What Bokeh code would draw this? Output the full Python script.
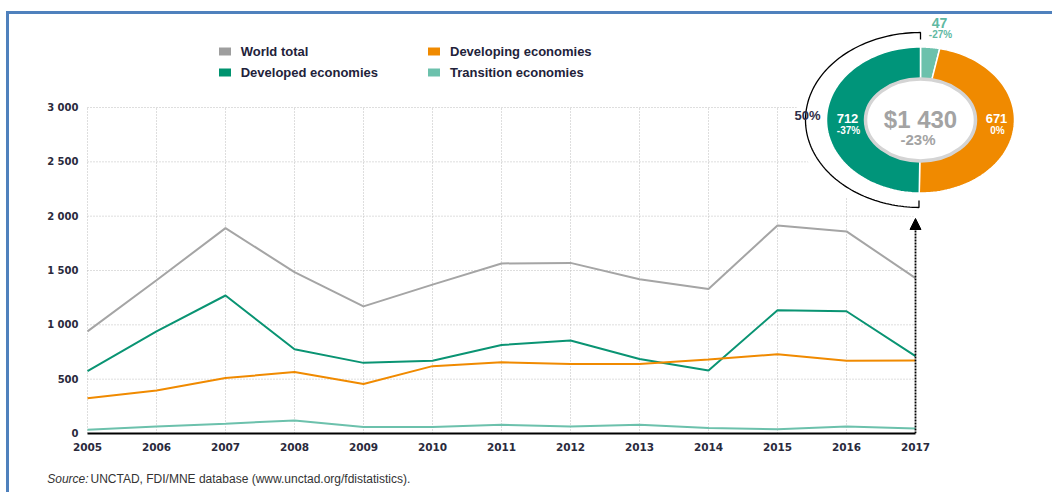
import numpy as np
from bokeh.plotting import figure
from bokeh.layouts import column
from bokeh.models import (Range1d, FixedTicker, Legend, LegendItem, Arrow, NormalHead)
from bokeh.core.properties import value
from bokeh.embed import file_html
from bokeh.resources import INLINE

# ---------------- data ----------------
years = [2005, 2006, 2007, 2008, 2009, 2010, 2011, 2012, 2013, 2014, 2015, 2016, 2017]
world_total = [940, 1410, 1890, 1485, 1170, 1370, 1565, 1570, 1420, 1330, 1915, 1860, 1430]
developed = [575, 940, 1270, 775, 650, 670, 815, 855, 685, 580, 1135, 1125, 712]
developing = [325, 395, 510, 565, 455, 620, 655, 640, 640, 680, 730, 670, 671]
transition = [35, 65, 90, 120, 60, 60, 80, 65, 80, 50, 40, 65, 47]

y_ticks = [0, 500, 1000, 1500, 2000, 2500, 3000]
y_tick_labels = ["0", "500", "1 000", "1 500", "2 000", "2 500", "3 000"]

series_names = ["World total", "Developed economies", "Developing economies", "Transition economies"]
series_colors = ["#a5a5a5", "#0a9473", "#f08a00", "#6cc1ac"]
legend_colors = ["#9e9e9e", "#00936f", "#f08a00", "#6cc1ac"]

# donut (2017), clockwise from 12 o'clock
donut_names = ["Transition economies", "Developing economies", "Developed economies"]
donut_values = [47, 671, 712]
donut_changes = ["-27%", "0%", "-37%"]
donut_colors = ["#6cc1ac", "#f08a00", "#00957a"]
total_value = 1430
total_change = "-23%"
source_label = "Source:"
source_text = "UNCTAD, FDI/MNE database (www.unctad.org/fdistatistics)."

# ---------------- layout constants ----------------
W, H = 1052, 492
H1 = 462                                      # main figure height, source strip below
FL, FR, FT, FB = 80, 1040, 14, 433            # frame edges in pixels
X0PX, PX_PER_YEAR = 87, 69.0                  # 2005 at x=87
PX_PER_UNIT = 326.0 / 3000.0                  # 0 at y=433, 3000 at y=107

x_start = years[0] - (X0PX - FL) / PX_PER_YEAR
x_end = years[0] + (FR - X0PX) / PX_PER_YEAR
y_end = (FB - FT) / PX_PER_UNIT

FONT = "Liberation Sans"
AXFONT = "DejaVu Sans"
TXT = "#2a2a3c"

p = figure(width=W, height=H1, x_range=Range1d(x_start, x_end), y_range=Range1d(0, y_end),
           output_backend="svg", toolbar_location=None, title=None,
           min_border_left=FL, min_border_right=W - FR, min_border_top=FT, min_border_bottom=H1 - FB)
p.extra_x_ranges = {"px": Range1d(FL, FR)}
p.extra_y_ranges = {"px": Range1d(FB, FT)}
p.outline_line_color = None
p.background_fill_color = "white"
p.border_fill_alpha = 0
p.grid.visible = False

# axes
xa = p.xaxis[0]
xa.ticker = FixedTicker(ticks=years)
xa.bounds = (years[0], years[-1])
xa.axis_line_color = "black"
xa.axis_line_width = 2
xa.major_tick_line_color = None
xa.minor_tick_line_color = None
xa.major_tick_out = 0
xa.major_tick_in = 0
xa.major_label_standoff = 9
xa.major_label_text_font = AXFONT
xa.major_label_text_font_size = "10.5px"
xa.major_label_text_font_style = "bold"
xa.major_label_text_color = TXT

ya = p.yaxis[0]
ya.ticker = FixedTicker(ticks=y_ticks)
ya.major_label_overrides = {t: s for t, s in zip(y_ticks, y_tick_labels)}
ya.bounds = (y_ticks[0], y_ticks[-1])
ya.axis_line_color = None
ya.major_tick_line_color = None
ya.minor_tick_line_color = None
ya.major_tick_out = 0
ya.major_tick_in = 0
ya.major_label_standoff = 2
ya.major_label_text_font = AXFONT
ya.major_label_text_font_size = "10px"
ya.major_label_text_font_style = "bold"
ya.major_label_text_color = TXT

# dotted grid (restricted to the data area)
grid_kw = dict(line_color="#bdbdbd", line_width=1, line_dash="1 2")
p.segment(x0=[years[0]] * (len(y_ticks) - 1), x1=[years[-1]] * (len(y_ticks) - 1),
          y0=y_ticks[1:], y1=y_ticks[1:], **grid_kw)
p.segment(x0=years[:-1], x1=years[:-1], y0=[y_ticks[0]] * (len(years) - 1),
          y1=[y_ticks[-1]] * (len(years) - 1), **grid_kw)

# lines
for vals, c in zip([world_total, developed, developing, transition], series_colors):
    p.line(years, vals, line_color=c, line_width=2)

# arrow from 2017 up to the donut
arrow_tip_val = (FB - 218) / PX_PER_UNIT
p.add_layout(Arrow(end=NormalHead(size=11, fill_color="black", line_color="black", line_width=1),
                   x_start=years[-1], y_start=0, x_end=years[-1], y_end=arrow_tip_val,
                   line_color="black", line_width=1.8, line_dash="2 1"))

# ---------------- donut ----------------
CX, CY = 920.0, 119.5
RXO, RYO = 94.0, 73.0
RXI, RYI = 55.0, 41.0
PXR = dict(x_range_name="px", y_range_name="px")

# white backdrop hiding the grid behind the donut
p.ellipse(x=[CX], y=[CY], width=250, height=192, fill_color="white", line_color=None, **PXR)

total = sum(donut_values)
cum = np.concatenate([[0], np.cumsum(donut_values)]) / total * 360.0
xs, ys = [], []
for a0, a1 in zip(cum[:-1], cum[1:]):
    t = np.radians(np.linspace(a0, a1, 80))
    xo = CX + RXO * np.sin(t); yo = CY - RYO * np.cos(t)
    xi = CX + RXI * np.sin(t[::-1]); yi = CY - RYI * np.cos(t[::-1])
    xs.append(np.concatenate([xo, xi]).tolist())
    ys.append(np.concatenate([yo, yi]).tolist())
p.patches(xs, ys, fill_color=donut_colors, line_color="white", line_width=1.5, **PXR)
p.ellipse(x=[CX], y=[CY], width=2 * RXI, height=2 * RYI, fill_color="white",
          line_color="#d4d4d4", line_width=3.5, **PXR)

# bracket around developed share
RXB, RYB, TICK = 115.0, 87.5, 7.0
t = np.radians(np.linspace(cum[2], cum[3], 120))
bx = (CX + RXB * np.sin(t)).tolist()
by = (CY - RYB * np.cos(t)).tolist()
bx = [bx[0]] + bx + [bx[-1]]
by = [by[0] - TICK] + by + [by[-1] + TICK]
p.line(bx, by, line_color="black", line_width=1.3, **PXR)

share_dev = f"{round(100 * donut_values[2] / total)}%"
p.text(x=[820], y=[115], text=[share_dev], text_font=value(FONT), text_font_size="13px",
       text_font_style="bold", text_color="#2e2e48", text_align="right", text_baseline="middle", **PXR)

# slice labels (order: transition, developing, developed)
val_pos_x = [939, 996, 847]
val_pos_y = [22.5, 117.5, 117.5]
chg_pos_y = [34, 129.5, 129.5]
val_colors = ["#5fb9a2", "white", "white"]
val_sizes = ["14px", "13px", "13px"]
for i in range(3):
    p.text(x=[val_pos_x[i]], y=[val_pos_y[i]], text=[str(donut_values[i])], text_font=value(FONT),
           text_font_size=val_sizes[i], text_font_style="bold", text_color=val_colors[i],
           text_align="center", text_baseline="middle", **PXR)
    p.text(x=[val_pos_x[i] + 1], y=[chg_pos_y[i]], text=[donut_changes[i]], text_font=value(FONT),
           text_font_size="10px", text_font_style="bold", text_color=val_colors[i],
           text_align="center", text_baseline="middle", **PXR)

total_txt = "$" + f"{total_value:,}".replace(",", " ")
p.text(x=[CX], y=[119], text=[total_txt], text_font=value(FONT), text_font_size="24px",
       text_font_style="bold", text_color="#a3a3a3", text_align="center", text_baseline="middle", **PXR)
p.text(x=[CX - 2.5], y=[139], text=[total_change], text_font=value(FONT), text_font_size="15px",
       text_font_style="bold", text_color="#a3a3a3", text_align="center", text_baseline="middle", **PXR)

# ---------------- legend ----------------
nan = float("nan")
proxies = {}
for name, c in zip(series_names, legend_colors):
    proxies[name] = p.quad(left=[nan], right=[nan], top=[nan], bottom=[nan],
                           fill_color=c, line_color=None)

leg_kw = dict(glyph_width=15, glyph_height=10, label_height=14, label_standoff=9, spacing=6,
              padding=0, margin=0, border_line_color=None, background_fill_alpha=0,
              label_text_font=FONT, label_text_font_size="13px", label_text_font_style="bold",
              label_text_color="#22223a")
leg_bottom = FB - 79.7
leg1 = Legend(items=[LegendItem(label=n, renderers=[proxies[n]]) for n in series_names[:2]],
              location=(216.7 - FL, leg_bottom), **leg_kw)
leg2 = Legend(items=[LegendItem(label=n, renderers=[proxies[n]]) for n in series_names[2:]],
              location=(426 - FL, leg_bottom), **leg_kw)
p.add_layout(leg1)
p.add_layout(leg2)

# ---------------- source strip ----------------
p2 = figure(width=W, height=H - H1, x_range=Range1d(0, W), y_range=Range1d(H, H1),
            output_backend="svg", toolbar_location=None, title=None,
            x_axis_location=None, y_axis_location=None, min_border=0)
p2.grid.visible = False
p2.outline_line_color = None
p2.background_fill_alpha = 0
p2.border_fill_alpha = 0
p2.text(x=[46.7], y=[478], text=[source_label], text_font=value(FONT), text_font_size="12px",
        text_font_style="italic", text_color="#333333", text_baseline="middle")
p2.text(x=[90], y=[478], text=[source_text], text_font=value(FONT), text_font_size="12px",
        text_color="#333333", text_baseline="middle")

for fig in (p, p2):
    if "frame_align" in fig.properties():
        fig.frame_align = False

frame_bg = ("linear-gradient(#4f81bd,#4f81bd) 6px 11px / 3px calc(100% - 11px) no-repeat, "
            "linear-gradient(#4f81bd,#4f81bd) 6px 11px / calc(100% - 6px) 3px no-repeat, #ffffff")
layout = column(p, p2, spacing=0, styles={"background": frame_bg})

open("out.html", "w").write(file_html(layout, INLINE))
